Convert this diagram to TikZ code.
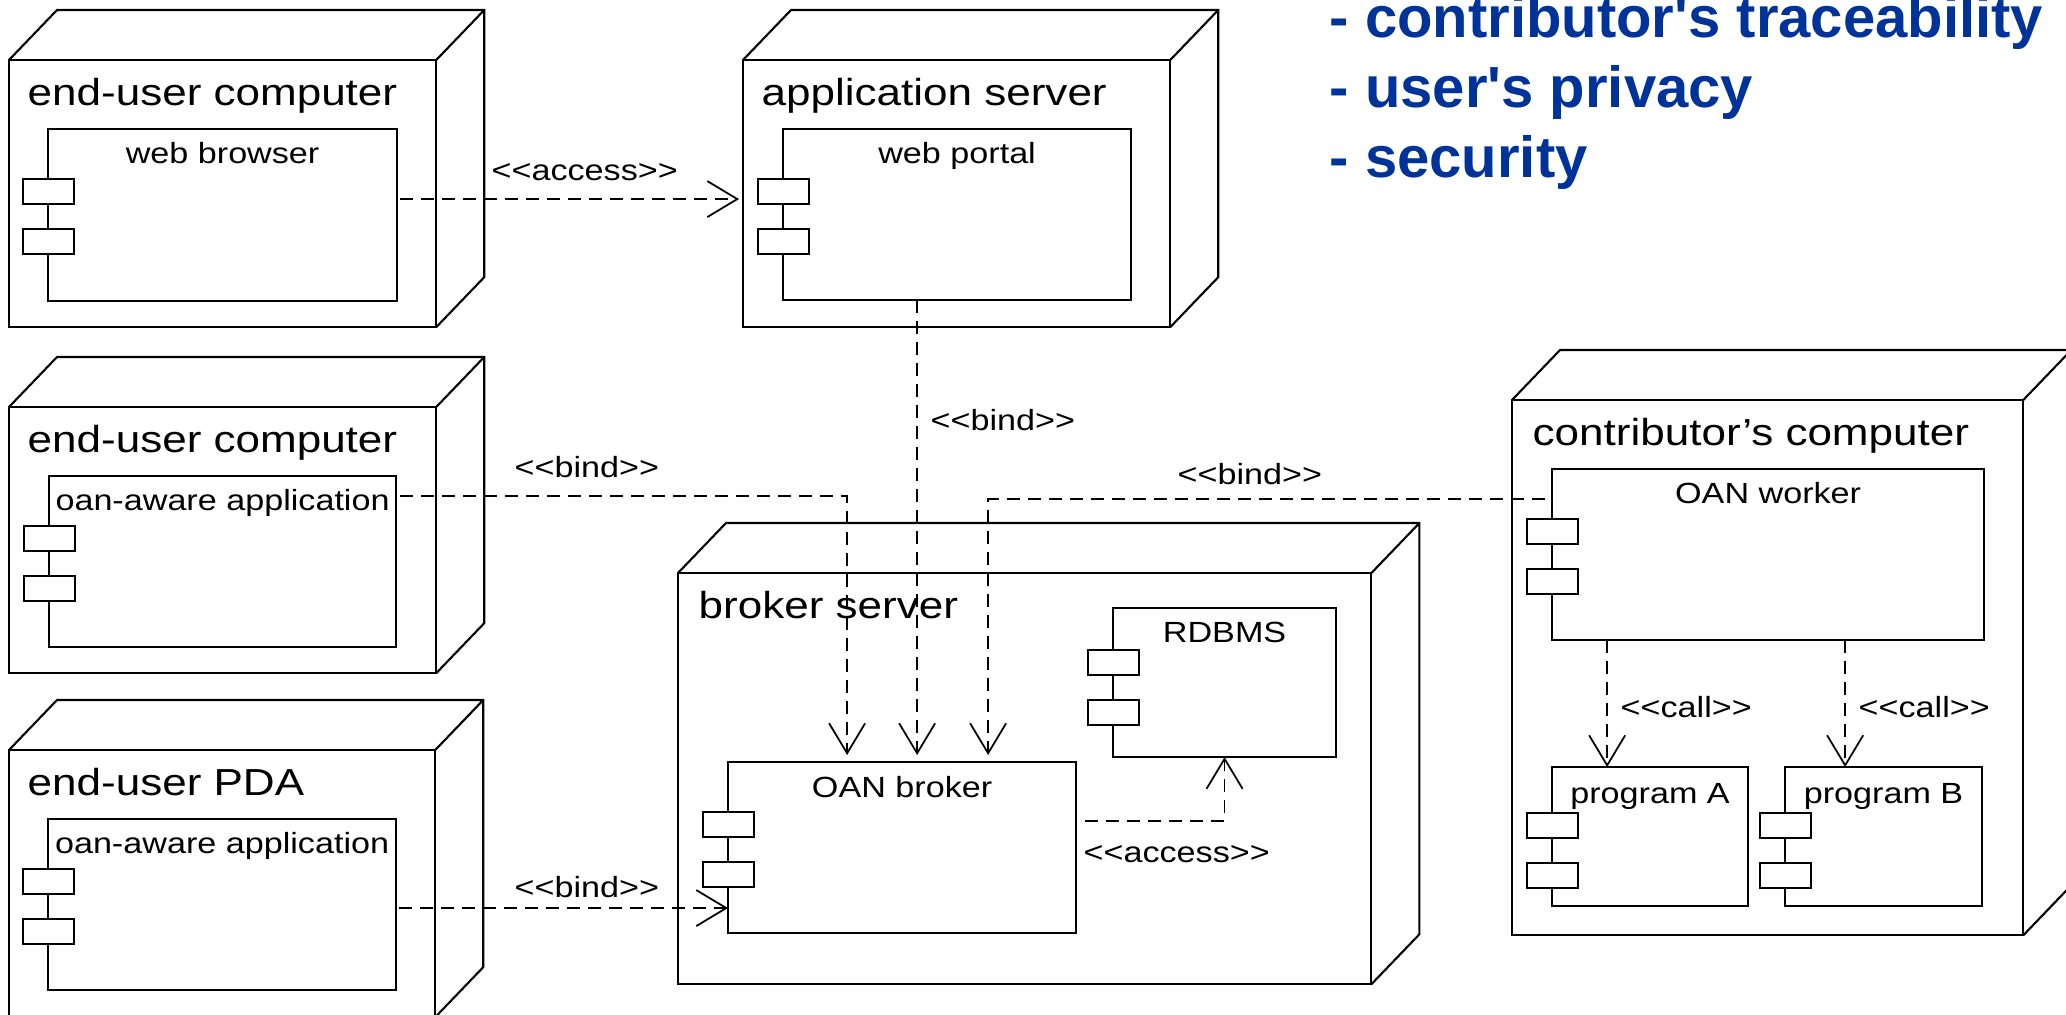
\documentclass[tikz,border=0pt]{standalone}
\usepackage{fontspec}
\newfontfamily\diafont[FakeStretch=1.17,Ligatures=TeXOff]{Liberation Sans}
\newfontfamily\notefont[Ligatures=TeXOff]{Liberation Sans}
\usetikzlibrary{arrows.meta}
\definecolor{noteblue}{RGB}{0,51,153}

\tikzset{
	devline/.style={line width=0.6pt},
	device/.style={draw, devline, anchor=north west, inner sep=0pt, outer sep=0pt},
	comp/.style={draw, devline, anchor=north west, inner sep=0pt, outer sep=0pt},
	devtitle/.style={anchor=base west, inner sep=0pt, font=\diafont\fontsize{10.7}{13}\selectfont},
	complabel/.style={anchor=base, inner sep=0pt, font=\diafont\fontsize{8.3}{10}\selectfont},
	deplabel/.style={anchor=base west, inner sep=0pt, font=\diafont\fontsize{8.3}{10}\selectfont},
	dep/.style={line width=0.5pt, dash pattern=on 0.13cm off 0.08cm,
		-{Straight Barb[length=0.3cm,width=0.36cm]}},
	note/.style={anchor=base west, inner sep=0pt, text=noteblue,
		font=\notefont\bfseries\fontsize{16.5}{20}\selectfont},
}

% top and side faces of a device box
\newcommand\nodedepth[1]{%
	\draw[devline] (#1.north west) -- ++(48,-50) -- ([shift={(48,-50)}]#1.north east)
	-- ([shift={(48,-50)}]#1.south east) -- (#1.south east)
	(#1.north east) -- ++(48,-50);}
% the two small tabs of a component, #2 = offset of the first tab
\newcommand\comptabs[2]{%
	\draw[devline, fill=white] ([shift={(-25,#2)}]#1.north west) rectangle ++(51,25)
	([shift={(-25,#2+50)}]#1.north west) rectangle ++(51,25);}

\begin{document}
\begin{tikzpicture}[x=0.01cm, y=-0.01cm]
	\useasboundingbox (0,0) rectangle (2066,1014);
	\clip (0,0) rectangle (2066,1014);
	
	% devices
	\node[device, minimum width=4.27cm, minimum height=2.67cm] (euc1) at (9,60) {};
	\node[device, minimum width=4.27cm, minimum height=2.67cm] (appsrv) at (743,60) {};
	\node[device, minimum width=4.27cm, minimum height=2.66cm] (euc2) at (9,407) {};
	\node[device, minimum width=4.26cm, minimum height=2.67cm] (pda) at (9,750) {};
	\node[device, minimum width=6.93cm, minimum height=4.11cm] (broker) at (678,573) {};
	\node[device, minimum width=5.11cm, minimum height=5.35cm] (contrib) at (1512,400) {};
	\foreach \n in {euc1,appsrv,euc2,pda,broker,contrib}
		\nodedepth{\n};
	
	\node[devtitle] (euc1-t) at ([shift={(18,45)}]euc1.north west) {end-user computer};
	\node[devtitle] (appsrv-t) at ([shift={(18,45)}]appsrv.north west) {application server};
	\node[devtitle] (euc2-t) at ([shift={(18,45)}]euc2.north west) {end-user computer};
	\node[devtitle] (pda-t) at ([shift={(18,45)}]pda.north west) {end-user PDA};
	\node[devtitle] (broker-t) at ([shift={(20,45)}]broker.north west) {broker server};
	\node[devtitle] (contrib-t) at ([shift={(20,45)}]contrib.north west) {contributor’s computer};
	
	% components
	\node[comp, minimum width=3.49cm, minimum height=1.72cm] (wb) at (48,129) {};
	\node[comp, minimum width=3.48cm, minimum height=1.71cm] (wp) at (783,129) {};
	\node[comp, minimum width=3.47cm, minimum height=1.71cm] (oa1) at (49,476) {};
	\node[comp, minimum width=3.48cm, minimum height=1.71cm] (oa2) at (48,819) {};
	\node[comp, minimum width=3.48cm, minimum height=1.71cm] (ob) at (728,762) {};
	\node[comp, minimum width=2.23cm, minimum height=1.49cm] (rdb) at (1113,608) {};
	\node[comp, minimum width=4.32cm, minimum height=1.71cm] (ow) at (1552,469) {};
	\node[comp, minimum width=1.96cm, minimum height=1.39cm] (pa) at (1552,767) {};
	\node[comp, minimum width=1.97cm, minimum height=1.39cm] (pb) at (1785,767) {};
	\foreach \n in {wb,wp,oa1,oa2,ob,ow}
		\comptabs{\n}{50};
	\comptabs{rdb}{42}
	\comptabs{pa}{46}
	\comptabs{pb}{46}
	
	\node[complabel] (wb-l) at ([shift={(0,34)}]wb.north) {web browser};
	\node[complabel] (wp-l) at ([shift={(0,34)}]wp.north) {web portal};
	\node[complabel] (oa1-l) at ([shift={(0,34)}]oa1.north) {oan-aware application};
	\node[complabel] (oa2-l) at ([shift={(0,34)}]oa2.north) {oan-aware application};
	\node[complabel] (ob-l) at ([shift={(0,35)}]ob.north) {OAN broker};
	\node[complabel] (rdb-l) at ([shift={(0,34)}]rdb.north) {RDBMS};
	\node[complabel] (ow-l) at ([shift={(0,34)}]ow.north) {OAN worker};
	\node[complabel] (pa-l) at ([shift={(0,36)}]pa.north) {program A};
	\node[complabel] (pb-l) at ([shift={(0,36)}]pb.north) {program B};
	
	% goals
	\node[note] (goal1) at (1329,37) {- contributor's traceability};
	\node[note] (goal2) at (1329,107) {- user's privacy};
	\node[note] (goal3) at (1329,177) {- security};
	
	% dependencies
	\coordinate (a1s) at ([shift={(3,-16)}]wb.east);
	\draw[dep, shorten >=0.04cm] (a1s) -- (a1s -| appsrv.west);
	\node[deplabel] (a1-l) at (491,180) {<<access>>};
	
	\coordinate (b0s) at ([shift={(-40,0)}]wp.south);
	\draw[dep, shorten >=0.07cm] (b0s) -- (b0s |- ob.north);
	\node[deplabel] (b0-l) at (930,430) {<<bind>>};
	
	\coordinate (b1s) at ([shift={(4,-65.5)}]oa1.east);
	\draw[dep, shorten >=0.07cm] (b1s) -| ([shift={(-55,0)}]ob.north);
	\node[deplabel] (b1-l) at (514,477) {<<bind>>};
	
	\coordinate (b2s) at ([shift={(-7,-55.5)}]ow.west);
	\draw[dep, shorten >=0.07cm] (b2s) -| ([shift={(86,0)}]ob.north);
	\node[deplabel] (b2-l) at (1177,484) {<<bind>>};
	
	\coordinate (b3s) at ([shift={(3,3.5)}]oa2.east);
	\draw[dep] (b3s) -- (b3s -| ob.west);
	\node[deplabel] (b3-l) at (514,897) {<<bind>>};
	
	\coordinate (a2s) at ([shift={(9,-26.5)}]ob.east);
	\draw[dep] (a2s) -| (rdb.south);
	\node[deplabel] (a2-l) at (1083,862) {<<access>>};
	
	\coordinate (c1s) at ([shift={(-161,0)}]ow.south);
	\draw[dep] (c1s) -- (c1s |- pa.north);
	\node[deplabel] (c1-l) at (1620,717) {<<call>>};
	
	\coordinate (c2s) at ([shift={(77,0)}]ow.south);
	\draw[dep] (c2s) -- (c2s |- pb.north);
	\node[deplabel] (c2-l) at (1858,717) {<<call>>};
	
\end{tikzpicture}
\end{document}
